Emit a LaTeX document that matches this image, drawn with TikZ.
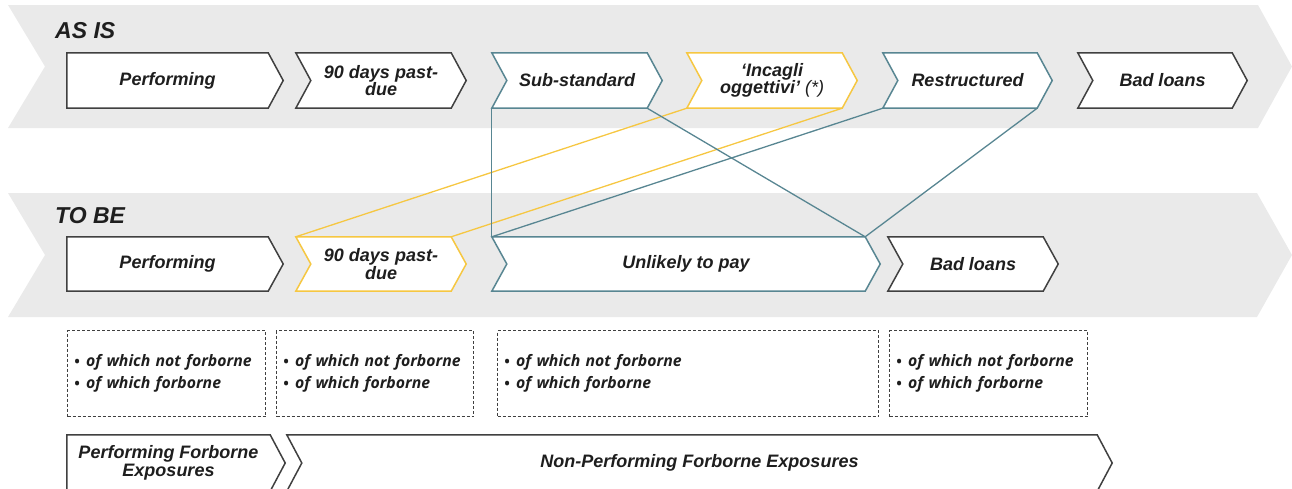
\documentclass[tikz,border=0pt]{standalone}
\usepackage{fontspec}
\setmainfont{Liberation Sans}
\newfontfamily\boxfont{Open Sans}
\usetikzlibrary{calc}
\definecolor{band}{RGB}{234,234,234}
\definecolor{teal}{RGB}{88,134,146}
\definecolor{gold}{RGB}{246,199,66}
\definecolor{dark}{RGB}{64,64,64}
\definecolor{txt}{RGB}{30,30,30}
\pgfdeclarelayer{bands}
\pgfdeclarelayer{shapes}
\pgfsetlayers{bands,shapes,main}
\newcommand\chevN[2]{% notched chevron around node #1, colour #2
  \begin{pgfonlayer}{shapes}
  \draw[#2, fill=white, line width=1.5pt, line join=miter]
    ([xshift=-15pt]#1.north west) -- (#1.north east) -- ([xshift=15pt]#1.east)
    -- (#1.south east) -- ([xshift=-15pt]#1.south west) -- (#1.west) -- cycle;
  \end{pgfonlayer}}
\newcommand\chevF[2]{% flat-left chevron around node #1, colour #2
  \begin{pgfonlayer}{shapes}
  \draw[#2, fill=white, line width=1.5pt, line join=miter]
    (#1.north west) -- (#1.north east) -- ([xshift=15pt]#1.east)
    -- (#1.south east) -- (#1.south west) -- cycle;
  \end{pgfonlayer}}
\tikzset{
  lbl/.style={inner sep=0pt, text=txt, align=center,
    font=\fontsize{18}{17.5}\selectfont\bfseries\itshape},
  ttl/.style={inner sep=0pt, text=txt, anchor=west,
    font=\fontsize{23}{23}\selectfont\bfseries\itshape},
  dbox/.style={draw=dark, densely dashed, line width=1pt, minimum height=86pt,
    inner xsep=6pt, align=left, anchor=north west, text=txt,
    font=\boxfont\fontsize{15.8}{22}\selectfont\bfseries\itshape},
  link/.style={line width=1.3pt},
}
\newcommand\blt{\raisebox{-1.8pt}{\mdseries\upshape\fontsize{19}{22}\selectfont\textbullet}\hspace{5.5pt}}
\newcommand\twoitems{\blt of which not forborne\\ \blt of which forborne}
\begin{document}
\begin{tikzpicture}[x=1pt,y=-1pt]
\useasboundingbox (0,0) rectangle (1292,488);
\begin{pgfonlayer}{bands}
\fill[band] (8,5) -- (1258,5) -- (1292,66.5) -- (1258,128) -- (8,128) -- (45,66.5) -- cycle;
\fill[band] (8,193) -- (1257,193) -- (1292,255) -- (1257,317) -- (8,317) -- (45,255) -- cycle;
\end{pgfonlayer}
\node[ttl] (asis) at (55,31) {AS IS};
\node[ttl] (tobe) at (55,216) {TO BE};
% AS IS row
\node[lbl, minimum width=201pt, minimum height=55pt] (p1) at (167.5,80.5) {Performing};
\node[lbl, minimum width=140pt, minimum height=55pt] (d1) at (381,80.5) {90 days past-\\due};
\node[lbl, minimum width=140pt, minimum height=55pt] (s1) at (577,80.5) {Sub-standard};
\node[lbl, minimum width=140pt, minimum height=55pt] (i1) at (772,80.5) {‘Incagli\\oggettivi’ {\mdseries(*)}};
\node[lbl, minimum width=139pt, minimum height=55pt] (r1) at (967.5,80.5) {Restructured};
\node[lbl, minimum width=139pt, minimum height=55pt] (b1) at (1162.5,80.5) {Bad loans};
\chevF{p1}{dark}
\chevN{d1}{dark}
\chevN{s1}{teal}
\chevN{i1}{gold}
\chevN{r1}{teal}
\chevN{b1}{dark}
% TO BE row
\node[lbl, minimum width=201pt, minimum height=54pt] (p2) at (167.5,264) {Performing};
\node[lbl, minimum width=140pt, minimum height=54pt] (d2) at (381,264) {90 days past-\\due};
\node[lbl, minimum width=358pt, minimum height=54pt] (u2) at (686,264) {Unlikely to pay};
\node[lbl, minimum width=140pt, minimum height=54pt] (b2) at (973,264) {Bad loans};
\chevF{p2}{dark}
\chevN{d2}{gold}
\chevN{u2}{teal}
\chevN{b2}{dark}
% corner coordinates
\coordinate (s1bl) at ([xshift=-15pt]s1.south west);
\coordinate (i1bl) at ([xshift=-15pt]i1.south west);
\coordinate (r1bl) at ([xshift=-15pt]r1.south west);
\coordinate (d2tl) at ([xshift=-15pt]d2.north west);
\coordinate (u2tl) at ([xshift=-15pt]u2.north west);
% connectors
\draw[link, gold] (i1bl) -- (d2tl);
\draw[link, gold] (i1.south east) -- (d2.north east);
\draw[link, teal] (s1bl) -- (u2tl);
\draw[link, teal] (s1.south east) -- (u2.north east);
\draw[link, teal] (r1bl) -- (u2tl);
\draw[link, teal] (r1.south east) -- (u2.north east);
% dashed boxes
\node[dbox, minimum width=198pt, text width=186pt] (x1) at (67,330) {\twoitems};
\node[dbox, minimum width=197pt, text width=185pt] (x2) at (276,330) {\twoitems};
\node[dbox, minimum width=381pt, text width=369pt] (x3) at (497,330) {\twoitems};
\node[dbox, minimum width=198pt, text width=186pt] (x4) at (889,330) {\twoitems};
% bottom row
\node[lbl, minimum width=203pt, minimum height=56pt] (pf) at (168.5,463) {Performing Forborne\\[1pt]Exposures};
\node[lbl, minimum width=795pt, minimum height=56pt] (np) at (699.5,463) {Non-Performing Forborne Exposures};
\chevF{pf}{dark}
\chevN{np}{dark}
\end{tikzpicture}
\end{document}
